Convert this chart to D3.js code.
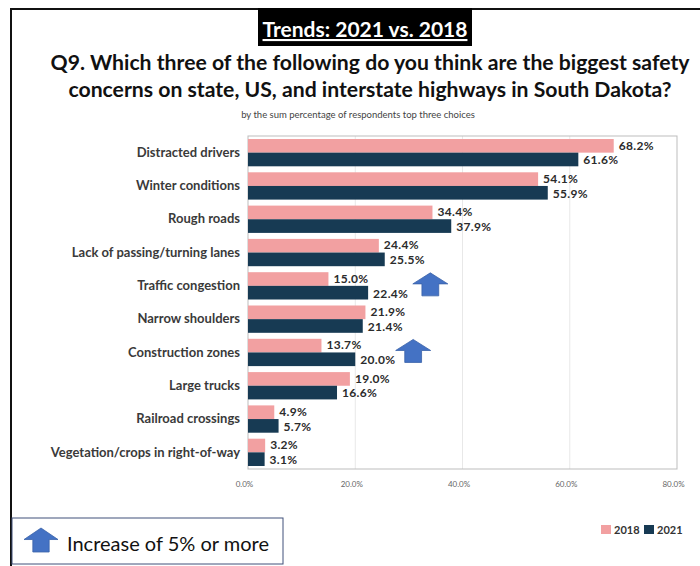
<!DOCTYPE html>
<html lang="en">
<head>
<meta charset="utf-8">
<script src="https://d3js.org/d3.v7.min.js"></script>
<style>
  body { margin: 0; background: #fff; }
  text { font-family: Lato, "Open Sans", sans-serif; }
</style>
</head>
<body>
<script>
// the data
var categories = ["Distracted drivers", "Winter conditions", "Rough roads",
                  "Lack of passing/turning lanes", "Traffic congestion", "Narrow shoulders",
                  "Construction zones", "Large trucks", "Railroad crossings",
                  "Vegetation/crops in right-of-way"];
var values2018 = [68.2, 54.1, 34.4, 24.4, 15.0, 21.9, 13.7, 19.0, 4.9, 3.2];
var values2021 = [61.6, 55.9, 37.9, 25.5, 22.4, 21.4, 20.0, 16.6, 5.7, 3.1];
var years = ["2018", "2021"];
var xTicks = [0, 20, 40, 60, 80];
// rows marked with an "increase" arrow, and where along x the arrow sits
var arrowRows = ["Traffic congestion", "Construction zones"];
var arrowAt = [34, 30.8];

var colour = {"2018": "#f2a0a1", "2021": "#173a53"};
var arrowBlue = "#4472c4";

var width = 700, height = 566;
var svg = d3.select("body").append("svg")
            .attr("width", width)
            .attr("height", height);

// outer frame (left + top edges visible)
svg.append("path")
   .attr("d", "M11,566 V9 H700")
   .attr("fill", "none")
   .attr("stroke", "#111")
   .attr("stroke-width", 2);

// title block
svg.append("rect")
   .attr("x", 258).attr("y", 8).attr("width", 214).attr("height", 38)
   .attr("fill", "#000");
svg.append("text")
   .attr("x", 365).attr("y", 37)
   .attr("text-anchor", "middle")
   .attr("fill", "#fff")
   .attr("font-size", 21)
   .attr("font-weight", "bold")
   .attr("text-decoration", "underline")
   .text("Trends: 2021 vs. 2018");

var qLines = ["Q9. Which three of the following do you think are the biggest safety",
              "concerns on state, US, and interstate highways in South Dakota?"];
svg.selectAll(".q").data(qLines).enter().append("text")
   .attr("class", "q")
   .attr("x", 370)
   .attr("y", function(d, i) { return 70 + i * 27; })
   .attr("text-anchor", "middle")
   .attr("font-size", 21.2)
   .attr("font-weight", "bold")
   .attr("fill", "#111")
   .text(function(d) { return d; });

svg.append("text")
   .attr("x", 358).attr("y", 118)
   .attr("text-anchor", "middle")
   .attr("font-size", 9.5)
   .attr("fill", "#444")
   .text("by the sum percentage of respondents top three choices");

// the chart area
var plot = {left: 248, right: 677, top: 136, bottom: 469};

var x = d3.scaleLinear().domain([0, 80]).range([plot.left, plot.right]);
var y = d3.scaleBand().domain(categories).range([plot.top, plot.bottom]).paddingInner(0.18).paddingOuter(0.09);
var ySub = d3.scaleBand().domain(years).range([0, y.bandwidth()]);

// gridlines
svg.append("g").selectAll("line").data(xTicks.slice(1, -1)).enter().append("line")
   .attr("x1", function(d) { return x(d); })
   .attr("x2", function(d) { return x(d); })
   .attr("y1", plot.top).attr("y2", plot.bottom)
   .attr("stroke", "#e8e8e8");

svg.append("rect")
   .attr("x", plot.left).attr("y", plot.top)
   .attr("width", plot.right - plot.left).attr("height", plot.bottom - plot.top)
   .attr("fill", "none").attr("stroke", "#bdbdbd");

// x axis tick labels
var xAxis = d3.axisBottom(x).tickValues(xTicks)
              .tickFormat(function(d) { return d.toFixed(1) + "%"; })
              .tickSize(0).tickPadding(12);
var gx = svg.append("g").attr("transform", "translate(-4," + plot.bottom + ")").call(xAxis);
gx.select(".domain").remove();
gx.selectAll("text").attr("font-size", 8).attr("fill", "#666")
  .attr("font-family", "Lato, sans-serif");

// category labels
var yAxis = d3.axisLeft(y).tickSize(0).tickPadding(8);
var gy = svg.append("g").attr("transform", "translate(" + plot.left + ",0)").call(yAxis);
gy.select(".domain").remove();
gy.selectAll("text").attr("font-size", 13).attr("font-weight", "bold").attr("fill", "#3a3a3a")
  .attr("font-family", "Lato, sans-serif");

// bars
var rows = categories.map(function(c, i) {
    return {cat: c, vals: [{year: "2018", v: values2018[i]}, {year: "2021", v: values2021[i]}]};
});
var groups = svg.append("g").selectAll("g").data(rows).enter().append("g")
   .attr("transform", function(d) { return "translate(0," + y(d.cat) + ")"; });

groups.selectAll("rect").data(function(d) { return d.vals; }).enter().append("rect")
   .attr("x", x(0))
   .attr("y", function(d) { return ySub(d.year); })
   .attr("width", function(d) { return x(d.v) - x(0); })
   .attr("height", ySub.bandwidth())
   .attr("fill", function(d) { return colour[d.year]; });

groups.selectAll("text").data(function(d) { return d.vals; }).enter().append("text")
   .attr("x", function(d) { return x(d.v) + 5; })
   .attr("y", function(d) { return ySub(d.year) + ySub.bandwidth() / 2 + 4.3 + (d.year === "2018" ? -0.6 : 0.6); })
   .attr("font-size", 12)
   .attr("font-weight", "bold")
   .attr("fill", "#2b2b2b")
   .attr("letter-spacing", 0.3)
   .text(function(d) { return d.v.toFixed(1) + "%"; });

// up arrow shape, centred on (0,0)
function arrowPath(w, h) {
    var hw = w / 2, sw = w * 0.24, hh = h * 0.48;
    return "M0," + (-h / 2) + " L" + hw + "," + (-h / 2 + hh) + " L" + sw + "," + (-h / 2 + hh) +
           " L" + sw + "," + (h / 2) + " L" + (-sw) + "," + (h / 2) + " L" + (-sw) + "," + (-h / 2 + hh) +
           " L" + (-hw) + "," + (-h / 2 + hh) + " Z";
}

svg.append("g").selectAll("path").data(arrowRows).enter().append("path")
   .attr("d", arrowPath(35, 23))
   .attr("transform", function(d, i) {
       return "translate(" + x(arrowAt[i]) + "," + (y(d) + y.bandwidth() / 2 - 1.5) + ")";
   })
   .attr("fill", arrowBlue)
   .attr("stroke", "#3a62a8")
   .attr("stroke-width", 0.8);

// series legend
var leg = svg.append("g").attr("transform", "translate(601,525)");
var legItems = leg.selectAll("g").data(years).enter().append("g")
   .attr("transform", function(d, i) { return "translate(" + (i * 43) + ",0)"; });
legItems.append("rect").attr("width", 10).attr("height", 9)
   .attr("fill", function(d) { return colour[d]; });
legItems.append("text").attr("x", 13).attr("y", 9)
   .attr("font-size", 11).attr("font-weight", "bold").attr("fill", "#333")
   .text(function(d) { return d; });

// arrow key box
svg.append("rect")
   .attr("x", 12).attr("y", 518).attr("width", 271).attr("height", 46)
   .attr("fill", "#fff").attr("stroke", "#41517a").attr("stroke-width", 1);
svg.append("path")
   .attr("d", arrowPath(34, 24))
   .attr("transform", "translate(41,540)")
   .attr("fill", arrowBlue)
   .attr("stroke", "#3a62a8")
   .attr("stroke-width", 0.8);
svg.append("text")
   .attr("x", 67).attr("y", 551)
   .attr("font-size", 20)
   .attr("fill", "#111")
   .text("Increase of 5% or more");
</script>
</body>
</html>
